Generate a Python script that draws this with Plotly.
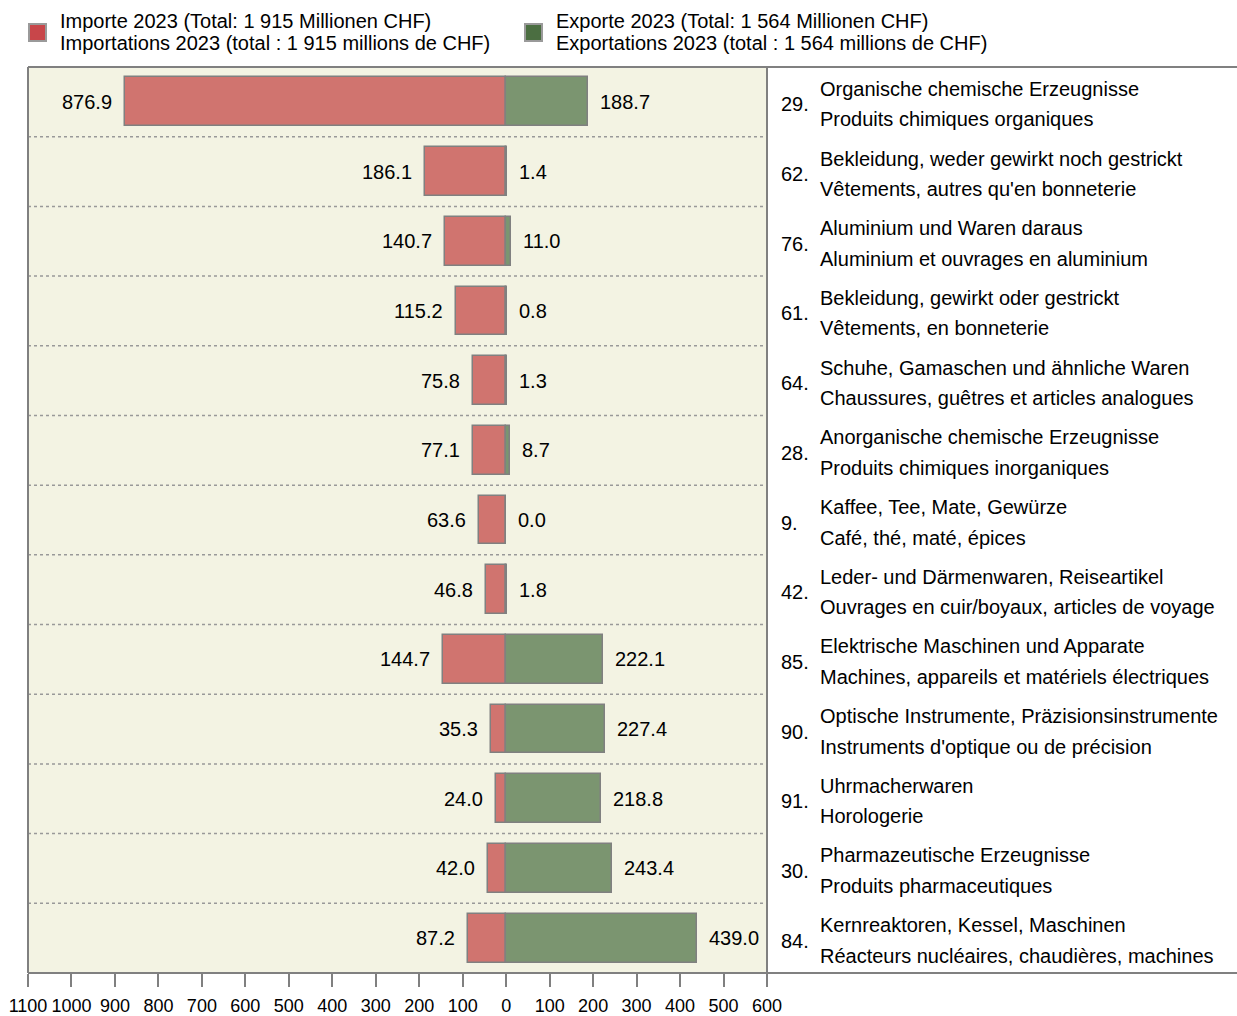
import plotly.graph_objects as go

codes = ["29.", "62.", "76.", "61.", "64.", "28.", "9.", "42.", "85.", "90.", "91.", "30.", "84."]
labels_de = [
    "Organische chemische Erzeugnisse",
    "Bekleidung, weder gewirkt noch gestrickt",
    "Aluminium und Waren daraus",
    "Bekleidung, gewirkt oder gestrickt",
    "Schuhe, Gamaschen und ähnliche Waren",
    "Anorganische chemische Erzeugnisse",
    "Kaffee, Tee, Mate, Gewürze",
    "Leder- und Därmenwaren, Reiseartikel",
    "Elektrische Maschinen und Apparate",
    "Optische Instrumente, Präzisionsinstrumente",
    "Uhrmacherwaren",
    "Pharmazeutische Erzeugnisse",
    "Kernreaktoren, Kessel, Maschinen",
]
labels_fr = [
    "Produits chimiques organiques",
    "Vêtements, autres qu'en bonneterie",
    "Aluminium et ouvrages en aluminium",
    "Vêtements, en bonneterie",
    "Chaussures, guêtres et articles analogues",
    "Produits chimiques inorganiques",
    "Café, thé, maté, épices",
    "Ouvrages en cuir/boyaux, articles de voyage",
    "Machines, appareils et matériels électriques",
    "Instruments d'optique ou de précision",
    "Horologerie",
    "Produits pharmaceutiques",
    "Réacteurs nucléaires, chaudières, machines",
]
imports = [876.9, 186.1, 140.7, 115.2, 75.8, 77.1, 63.6, 46.8, 144.7, 35.3, 24.0, 42.0, 87.2]
exports = [188.7, 1.4, 11.0, 0.8, 1.3, 8.7, 0.0, 1.8, 222.1, 227.4, 218.8, 243.4, 439.0]
tick_vals = [-1100, -1000, -900, -800, -700, -600, -500, -400, -300, -200, -100, 0, 100, 200, 300, 400, 500, 600]
tick_text = [str(abs(v)) for v in tick_vals]
legend_imp = ["Importe 2023 (Total: 1 915 Millionen CHF)", "Importations 2023 (total : 1 915 millions de CHF)"]
legend_exp = ["Exporte 2023 (Total: 1 564 Millionen CHF)", "Exportations 2023 (total : 1 564 millions de CHF)"]

FONT = "Arial, Liberation Sans, sans-serif"
IMP_C = "#D0746F"
EXP_C = "#7B9570"
LINE_C = "#808080"

W, H = 1237, 1016
L, R, T, B = 28, W - 767, 67, H - 973
n = len(codes)
ys = list(range(n))

fig = go.Figure()
fig.add_trace(go.Bar(
    y=ys, x=[-v for v in imports], base=0, orientation="h", width=0.7,
    marker=dict(color=IMP_C, line=dict(color=LINE_C, width=1.5)), showlegend=False,
    hoverinfo="skip",
))
fig.add_trace(go.Bar(
    y=ys, x=exports, base=0, orientation="h", width=0.7,
    marker=dict(color=EXP_C, line=dict(color=LINE_C, width=1.5)), showlegend=False,
    hoverinfo="skip",
))

ann = []
for i in range(n):
    ann.append(dict(x=-imports[i], y=i, xref="x", yref="y", text=f"{imports[i]:.1f}",
                    xanchor="right", yanchor="middle", xshift=-11, showarrow=False,
                    font=dict(family=FONT, size=20, color="black")))
    ann.append(dict(x=exports[i], y=i, xref="x", yref="y", text=f"{exports[i]:.1f}",
                    xanchor="left", yanchor="middle", xshift=10, showarrow=False,
                    font=dict(family=FONT, size=20, color="black")))
    ann.append(dict(x=1, y=i, xref="paper", yref="y", text=codes[i],
                    xanchor="left", yanchor="middle", xshift=12, yshift=-2.5, showarrow=False,
                    font=dict(family=FONT, size=20, color="black")))
    ann.append(dict(x=1, y=i, xref="paper", yref="y", text=labels_de[i],
                    xanchor="left", yanchor="middle", xshift=51, yshift=13, showarrow=False,
                    font=dict(family=FONT, size=20, color="black")))
    ann.append(dict(x=1, y=i, xref="paper", yref="y", text=labels_fr[i],
                    xanchor="left", yanchor="middle", xshift=51, yshift=-17.5, showarrow=False,
                    font=dict(family=FONT, size=20, color="black")))

pw = W - L - R
def px(xp):
    return (xp - L) / pw
ph = H - T - B
def py(yp):
    return 1 - (yp - T) / ph

# legend
for sx, lines, col in [(28, legend_imp, "#C8464A"), (524, legend_exp, "#4B6E41")]:
    fig.add_shape(type="rect", xref="paper", yref="paper", x0=px(sx + 1), x1=px(sx + 18),
                  y0=py(41), y1=py(24), fillcolor=col, line=dict(color="#9A9A9A", width=2))
    ann.append(dict(x=px(sx + 30), y=py(21), xref="paper", yref="paper", text=lines[0],
                    xanchor="left", yanchor="middle", showarrow=False,
                    font=dict(family=FONT, size=20, color="black")))
    ann.append(dict(x=px(sx + 30), y=py(43), xref="paper", yref="paper", text=lines[1],
                    xanchor="left", yanchor="middle", showarrow=False,
                    font=dict(family=FONT, size=20, color="black")))

# row separators
for i in range(n - 1):
    fig.add_shape(type="line", xref="x domain", yref="y", x0=0, x1=1, y0=i + 0.5, y1=i + 0.5,
                  line=dict(color="#999999", width=1.5, dash="3px,3px"), layer="below")

# frame lines
fig.add_shape(type="line", xref="paper", yref="paper", x0=0, x1=px(W), y0=1, y1=1,
              line=dict(color=LINE_C, width=2))
fig.add_shape(type="line", xref="paper", yref="paper", x0=0, x1=px(W), y0=0, y1=0,
              line=dict(color=LINE_C, width=2))
fig.add_shape(type="line", xref="paper", yref="paper", x0=1, x1=1, y0=0, y1=1,
              line=dict(color=LINE_C, width=2))
fig.add_shape(type="line", xref="paper", yref="paper", x0=0, x1=0, y0=0, y1=1,
              line=dict(color=LINE_C, width=2))

fig.update_layout(
    width=W, height=H,
    margin=dict(l=L, r=R, t=T, b=B, pad=0, autoexpand=False),
    paper_bgcolor="white", plot_bgcolor="#F3F3E3",
    barmode="overlay", bargap=0,
    annotations=ann,
    xaxis=dict(range=[-1100, 600], tickvals=tick_vals, ticktext=tick_text, ticks="outside",
               ticklen=13, tickwidth=1.5, tickcolor=LINE_C, showgrid=False, zeroline=False,
               showline=False, tickfont=dict(family=FONT, size=18, color="black"),
               ticklabelstandoff=3, fixedrange=True, automargin=False),
    yaxis=dict(range=[n - 0.5, -0.5], showticklabels=False, showgrid=False, zeroline=False,
               showline=False, ticks="", fixedrange=True, automargin=False),
    font=dict(family=FONT),
)

fig.write_html(
    "out.html",
    config={"displayModeBar": False},
    post_script="document.body.style.margin='0';document.body.style.overflow='hidden';",
)
